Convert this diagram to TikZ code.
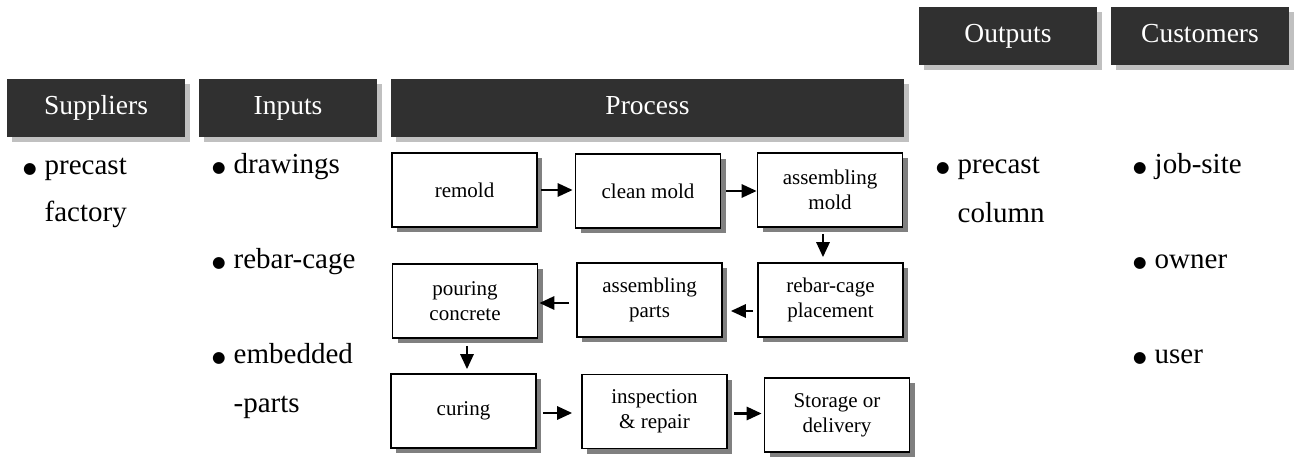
\documentclass[tikz,border=0pt]{standalone}
\usepackage{fontspec}
\setmainfont{LiberationSerif}[Extension=.ttf, UprightFont=*-Regular, BoldFont=*-Bold, ItalicFont=*-Italic, BoldItalicFont=*-BoldItalic]
\newfontfamily\bulfont{DejaVu Sans}
\usetikzlibrary{arrows.meta,shadows}
\definecolor{hdr}{HTML}{303030}
\definecolor{hdrshadow}{HTML}{C0C0C0}
\definecolor{boxshadow}{HTML}{808080}
\newcommand{\bitem}[1]{\makebox[21.5pt][l]{\bulfont\fontsize{15.5}{16}\selectfont\raisebox{1pt}{●}}#1}
\begin{document}
\begin{tikzpicture}[x=1pt,y=-1pt,
  hdrbox/.style={fill=hdr, draw=none, text=white, minimum height=58pt,
    minimum width=178pt, inner sep=0pt, text height=19pt, text depth=6pt,
    font=\fontsize{27.5}{30}\selectfont,
    drop shadow={shadow xshift=5pt, shadow yshift=-5pt, fill=hdrshadow, opacity=1}},
  stepbox/.style={draw=black, line width=1.6pt, fill=white, minimum width=145pt,
    minimum height=74pt, inner sep=0pt, align=center,
    font=\fontsize{21}{25}\selectfont,
    drop shadow={shadow xshift=5pt, shadow yshift=-5pt, fill=boxshadow, opacity=1}},
  listtext/.style={anchor=base west, inner sep=0pt, font=\fontsize{29}{35}\selectfont},
  arr/.style={line width=2.8pt, -{Triangle[length=15pt,width=13pt]}}
]
\useasboundingbox (0,0) rectangle (1298,468);

% headers
\node[hdrbox] (sup) at (96,108) {Suppliers};
\node[hdrbox] (inp) at (288,108) {Inputs};
\node[hdrbox, minimum width=513pt] (proc) at (647.5,108) {Process};
\node[hdrbox] (out) at (1008,36) {Outputs};
\node[hdrbox] (cust) at (1200,36) {Customers};

% process steps
\node[stepbox] (remold) at (464.5,190) {remold};
\node[stepbox] (clean) at (648,191) {clean mold};
\node[stepbox] (amold) at (830,190) {assembling\\mold};
\node[stepbox] (rebar) at (830.5,300) {rebar-cage\\placement};
\node[stepbox] (parts) at (649.5,300) {assembling\\parts};
\node[stepbox] (pour) at (465,301) {pouring\\concrete};
\node[stepbox] (curing) at (463.5,411) {curing};
\node[stepbox] (insp) at (654.5,411.5) {inspection\\\&~repair};
\node[stepbox] (store) at (837,415) {Storage or\\delivery};

% arrows
\draw[arr, shorten <=3pt, shorten >=2pt] (remold.east) -- (remold.east -| clean.west);
\draw[arr, shorten <=5pt] (clean.east) -- (clean.east -| amold.west);
\draw[arr, shorten <=6pt, shorten >=5pt] ([xshift=-7pt]amold.south) -- ([xshift=-7pt]amold.south |- rebar.north);
\draw[arr, shorten <=4pt, shorten >=8pt] ([yshift=-11pt]rebar.west) -- ([yshift=-11pt]rebar.west -| parts.east);
\draw[arr, shorten <=7pt, shorten >=1pt] ([yshift=-3pt]parts.west) -- ([yshift=-3pt]parts.west -| pour.east);
\draw[arr, shorten <=7pt, shorten >=4pt] ([xshift=2pt]pour.south) -- ([xshift=2pt]pour.south |- curing.north);
\draw[arr, shorten <=6pt, shorten >=9pt] ([yshift=-2pt]curing.east) -- ([yshift=-2pt]curing.east -| insp.west);
\draw[arr, shorten <=6pt, shorten >=2pt] ([yshift=-2pt]insp.east) -- ([yshift=-2pt]insp.east -| store.west);

% lists
\node[listtext] (s1) at (23,174) {\bitem{precast}};
\node[listtext] (s1b) at (44.5,221) {factory};
\node[listtext] (i1) at (212,173) {\bitem{drawings}};
\node[listtext] (i2) at (212,268) {\bitem{rebar-cage}};
\node[listtext] (i3) at (212,363) {\bitem{embedded}};
\node[listtext] (i3b) at (233.5,412) {-parts};
\node[listtext] (o1) at (936,173) {\bitem{precast}};
\node[listtext] (o1b) at (957.5,222) {column};
\node[listtext] (c1) at (1133,173) {\bitem{job-site}};
\node[listtext] (c2) at (1133,268) {\bitem{owner}};
\node[listtext] (c3) at (1133,363) {\bitem{user}};
\end{tikzpicture}
\end{document}
